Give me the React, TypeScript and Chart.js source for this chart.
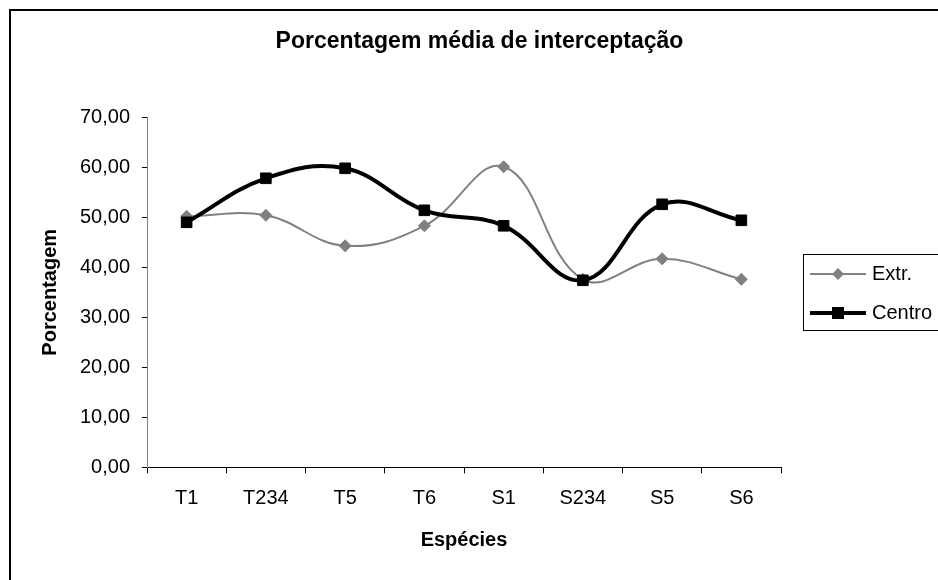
import React, { useEffect, useRef } from 'react';
import { Chart, registerables } from 'chart.js';

Chart.register(...registerables);

const categories = ['T1', 'T234', 'T5', 'T6', 'S1', 'S234', 'S5', 'S6'];
const extrValues = [50.2, 50.4, 44.3, 48.3, 60.1, 37.6, 41.7, 37.6];
const centroValues = [49.0, 57.8, 59.8, 51.4, 48.3, 37.4, 52.6, 49.4];
const yTickLabels = ['0,00', '10,00', '20,00', '30,00', '40,00', '50,00', '60,00', '70,00'];
const seriesNames = ['Extr.', 'Centro'];
const chartTitle = 'Porcentagem média de interceptação';
const xTitle = 'Espécies';
const yTitle = 'Porcentagem';

const FONT = '"Liberation Sans", Arial, Helvetica, sans-serif';
const GRAY = '#808080';

function makeSample(kind: 'diamond' | 'square'): HTMLCanvasElement {
  const c = document.createElement('canvas');
  c.width = 70;
  c.height = 16;
  const ctx = c.getContext('2d')!;
  const y = 8;
  ctx.beginPath();
  ctx.moveTo(14, y);
  ctx.lineTo(70, y);
  if (kind === 'diamond') {
    ctx.strokeStyle = GRAY;
    ctx.lineWidth = 2;
    ctx.stroke();
    ctx.beginPath();
    ctx.moveTo(42, y - 6);
    ctx.lineTo(48, y);
    ctx.lineTo(42, y + 6);
    ctx.lineTo(36, y);
    ctx.closePath();
    ctx.fillStyle = GRAY;
    ctx.fill();
  } else {
    ctx.strokeStyle = '#000';
    ctx.lineWidth = 4;
    ctx.stroke();
    ctx.fillStyle = '#000';
    ctx.fillRect(42 - 6, y - 6, 12, 12);
  }
  return c;
}

export default function App() {
  const ref = useRef<HTMLCanvasElement | null>(null);

  useEffect(() => {
    if (!ref.current) return;
    const samples = [makeSample('diamond'), makeSample('square')];

    const framePlugin = {
      id: 'framePlugin',
      afterDraw(chart: any) {
        const ctx = chart.ctx;
        ctx.save();
        ctx.strokeStyle = '#000';
        ctx.lineWidth = 2;
        ctx.strokeRect(10, 10, 2000, 2000);
        const lg = chart.legend;
        if (lg && lg.legendHitBoxes && lg.legendHitBoxes.length) {
          const hb = lg.legendHitBoxes;
          const top = hb[0].top - 10;
          const bottom = hb[hb.length - 1].top + hb[hb.length - 1].height + 7;
          ctx.lineWidth = 1;
          ctx.strokeRect(Math.round(lg.left + 22) + 0.5, Math.round(top) + 0.5, 500, Math.round(bottom - top));
        }
        ctx.restore();
      },
    };

    const chart = new Chart(ref.current, {
      type: 'line',
      data: {
        labels: categories,
        datasets: [
          {
            label: seriesNames[0],
            data: extrValues,
            borderColor: GRAY,
            backgroundColor: GRAY,
            borderWidth: 2,
            pointStyle: 'rectRot',
            pointRadius: 6,
            pointBorderWidth: 1,
            pointBackgroundColor: GRAY,
            pointBorderColor: GRAY,
            tension: 0.4,
            order: 1,
          },
          {
            label: seriesNames[1],
            data: centroValues,
            borderColor: '#000',
            backgroundColor: '#000',
            borderWidth: 4,
            pointStyle: 'rect',
            pointRadius: 7.5,
            pointBorderWidth: 1,
            pointBackgroundColor: '#000',
            pointBorderColor: '#000',
            tension: 0.4,
            order: 0,
          },
        ],
      },
      options: {
        responsive: false,
        animation: false,
        devicePixelRatio: 1,
        layout: { padding: { left: 21, right: 0, top: 0, bottom: 28 } },
        plugins: {
          tooltip: { enabled: false },
          title: {
            display: true,
            text: chartTitle,
            color: '#000',
            font: { family: FONT, size: 23, weight: 'bold' },
            padding: { top: 28.2, bottom: 61.5 },
          },
          legend: {
            position: 'right',
            maxWidth: 157,
            title: { display: true, text: '', font: { family: FONT, size: 10 }, padding: { top: 23, bottom: 0 } },
            labels: {
              usePointStyle: true,
              pointStyleWidth: 62,
              padding: 19,
              color: '#000',
              font: { family: FONT, size: 20 },
              sort: (a: any, b: any) => a.datasetIndex - b.datasetIndex,
              generateLabels: (chart: any) => {
                const items = Chart.defaults.plugins.legend.labels.generateLabels(chart);
                return items.map((it: any) => ({ ...it, pointStyle: samples[it.datasetIndex], fontColor: '#000' }));
              },
            },
          },
        },
        scales: {
          x: {
            type: 'category',
            offset: true,
            grid: { offset: true, drawOnChartArea: false, drawTicks: true, tickLength: 6, color: '#000' },
            border: { color: '#000', width: 1 },
            ticks: { color: '#000', font: { family: FONT, size: 20 }, padding: 13, maxRotation: 0, autoSkip: false },
            title: { display: true, text: xTitle, color: '#000', font: { family: FONT, size: 20, weight: 'bold' }, padding: 0 },
            afterFit: (s: any) => { s.height = 84.7; },
          },
          y: {
            min: 0,
            max: 70,
            grid: { drawOnChartArea: false, tickLength: 5, color: '#000' },
            border: { color: GRAY, width: 1 },
            ticks: {
              stepSize: 10,
              color: '#000',
              font: { family: FONT, size: 20 },
              padding: 12,
              callback: (v: any) => yTickLabels[Math.round(Number(v) / 10)],
            },
            title: { display: true, text: yTitle, color: '#000', font: { family: FONT, size: 20, weight: 'bold' }, padding: { top: 17, bottom: 0 } },
            afterFit: (s: any) => { s.width = 126; },
          },
        },
      } as any,
      plugins: [framePlugin],
    });
    return () => chart.destroy();
  }, []);

  return (
    <div style={{ position: 'fixed', left: 0, top: 0, width: 938, height: 580, background: '#fff', overflow: 'hidden' }}>
      <canvas ref={ref} width={938} height={580} style={{ display: 'block' }} />
    </div>
  );
}
